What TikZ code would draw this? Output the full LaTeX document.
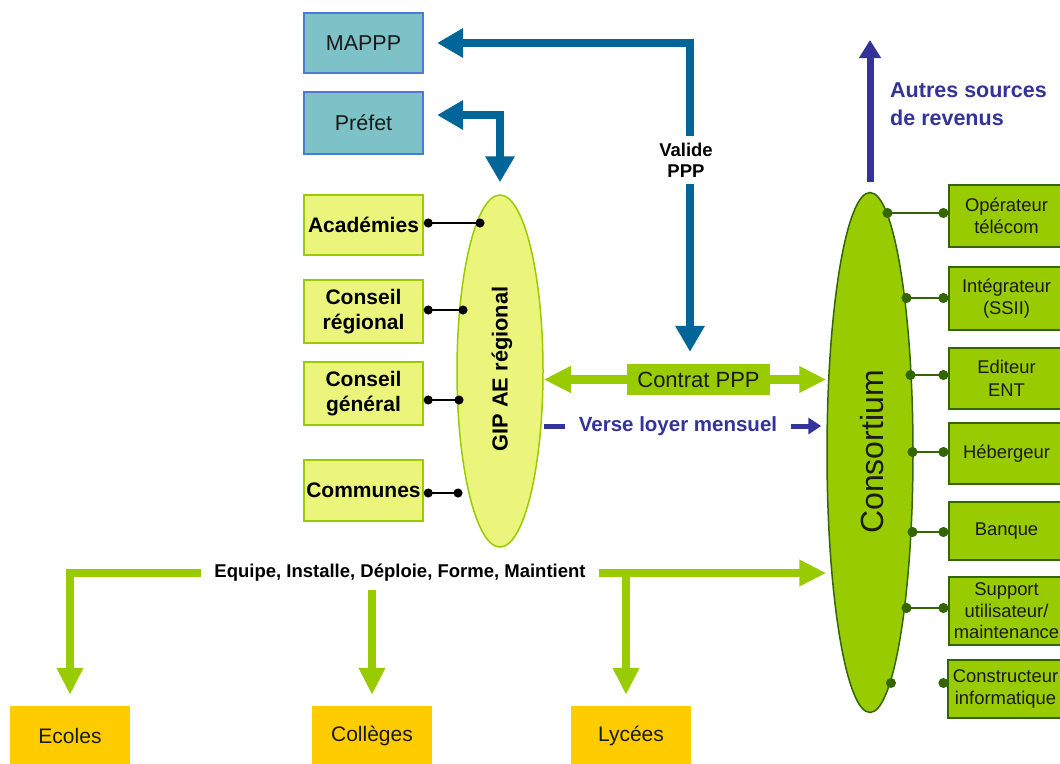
\documentclass[tikz,border=0pt]{standalone}
\usepackage{fontspec}
\setmainfont{Liberation Sans}
\usetikzlibrary{arrows.meta,shapes.geometric,calc}
\pgfdeclarelayer{background}
\pgfdeclarelayer{conn}
\pgfsetlayers{background,conn,main}
\definecolor{cTeal}{HTML}{7CC2C6}
\definecolor{cTealB}{HTML}{5079D4}
\definecolor{cLight}{HTML}{EBF57C}
\definecolor{cLime}{HTML}{99CC00}
\definecolor{cDark}{HTML}{336600}
\definecolor{cBlue}{HTML}{006699}
\definecolor{cNavy}{HTML}{333399}
\definecolor{cGold}{HTML}{FFCC00}
\definecolor{cText}{HTML}{1A1A1A}
\begin{document}
\begin{tikzpicture}[x=1pt,y=-1pt,
  tealbox/.style={draw=cTealB, line width=1.2pt, fill=cTeal, minimum width=119pt, minimum height=60pt, inner sep=0pt, text=cText, font=\fontsize{21.5}{24}\selectfont},
  limebox/.style={draw=cLime, line width=1.5pt, fill=cLight, minimum width=119pt, minimum height=61pt, inner sep=0pt, align=center, font=\bfseries\fontsize{21}{25}\selectfont},
  greenbox/.style={draw=cDark, line width=1.2pt, fill=cLime, minimum width=115pt, inner sep=0pt, align=center, text=cText, font=\fontsize{18.4}{22.5}\selectfont},
  goldbox/.style={fill=cGold, minimum width=120pt, minimum height=60pt, inner sep=0pt, text=cText, font=\fontsize{21}{24}\selectfont},
  bluepipe/.style={draw=cBlue, line width=8pt, {Triangle[length=26pt,width=28pt]}-{Triangle[length=26pt,width=28pt]}},
  limedouble/.style={draw=cLime, line width=9pt, {Triangle[length=27pt,width=25pt]}-{Triangle[length=27pt,width=25pt]}},
  limepipe/.style={draw=cLime, line width=8pt, -{Triangle[length=27pt,width=25pt]}},
  navyline/.style={draw=cNavy, line width=5pt, -{Triangle[length=13pt,width=16pt]}},
  navyup/.style={draw=cNavy, line width=7pt, -{Triangle[length=18pt,width=21pt]}},
  kconn/.style={draw=black, line width=1.5pt, {Circle[length=9pt,width=9pt]}-{Circle[length=9pt,width=9pt]}},
  gconn/.style={draw=cDark, line width=2pt, {Circle[length=10pt,width=10pt]}-{Circle[length=10pt,width=10pt]}}
]
\begin{pgfonlayer}{background}
\fill[white] (0,0) rectangle (1060,763);
\end{pgfonlayer}
\useasboundingbox (0,0) rectangle (1060,763);

% left column
\node[tealbox] (mappp) at (363.5,43) {MAPPP};
\node[tealbox, minimum height=62pt] (prefet) at (363.5,123) {Préfet};
\node[limebox, minimum height=60pt] (acad) at (363.5,225) {Académies};
\node[limebox, minimum height=63pt] (creg) at (363.5,311.5) {Conseil\\régional};
\node[limebox, minimum height=63pt] (cgen) at (363.5,393.5) {Conseil\\général};
\node[limebox] (comm) at (363.5,490.5) {Communes};

% ellipses
\node[ellipse, draw=cLime, line width=1.5pt, fill=cLight, minimum width=86pt, minimum height=352pt, inner sep=0pt] (gip) at (500,371) {};
\node[rotate=90, font=\bfseries\fontsize{21.8}{21.8}\selectfont] (giplbl) at (502,369) {GIP AE régional};
\node[ellipse, draw=cDark, line width=1.5pt, fill=cLime, minimum width=86pt, minimum height=520pt, inner sep=0pt] (cons) at (870,452.5) {};
\node[rotate=90, font=\fontsize{32}{32}\selectfont, text=cText] (conslbl) at (872,452) {Consortium};

% middle
\node[fill=cLime, minimum width=143pt, minimum height=31pt, inner sep=0pt, text=cText, font=\fontsize{22}{22}\selectfont] (contrat) at (698.5,379.5) {Contrat PPP};
\node[fill=white, text=cNavy, font=\bfseries\fontsize{20.5}{20.5}\selectfont, inner xsep=14pt, inner ysep=4pt] (verse) at (678,426) {Verse loyer mensuel};
\node[fill=white, font=\bfseries\fontsize{18.5}{21}\selectfont, align=center, inner xsep=6pt, inner ysep=7pt] (valide) at (686,160) {Valide\\PPP};
\coordinate (vx) at (690,0);

% top right
\coordinate (autrestip) at (870,40);
\node[anchor=north west, align=left, text=cNavy, font=\bfseries\fontsize{21.5}{28}\selectfont, inner sep=0pt] (autres) at (890,83) {Autres sources\\de revenus};

% right boxes
\node[greenbox, minimum height=62pt] (oper) at (1006.5,216) {Opérateur\\télécom};
\node[greenbox, minimum height=63pt] (integ) at (1006.5,298.5) {Intégrateur\\(SSII)};
\node[greenbox, minimum height=61pt] (edit) at (1006.5,378.5) {Editeur\\ENT};
\node[greenbox, minimum height=61pt] (heberg) at (1006.5,453.5) {Hébergeur};
\node[greenbox, minimum height=58pt] (banque) at (1006.5,531) {Banque};
\node[greenbox, minimum height=68pt, font=\fontsize{18.4}{21.5}\selectfont] (support) at (1006.5,611) {Support\\utilisateur/\\maintenance};
\node[greenbox, minimum height=58pt] (constr) at (1005.5,689) {Constructeur\\informatique};

% bottom
\node[fill=white, font=\bfseries\fontsize{18.5}{18.5}\selectfont, inner xsep=13pt, inner ysep=8pt] (equipe) at (400,573) {Equipe, Installe, Déploie, Forme, Maintient};
\node[goldbox] (ecoles) at (70,736) {Ecoles};
\node[goldbox] (colleges) at (372,736) {Collèges};
\node[goldbox] (lycees) at (631,736) {Lycées};
\coordinate (lyx) at (626,0);

% connectors behind labels
\begin{pgfonlayer}{conn}
\draw[bluepipe, shorten <=12pt, shorten >=13.5pt] (contrat.north -| vx) |- (mappp.east);
\draw[bluepipe, shorten <=13.5pt, shorten >=12pt] ([yshift=8pt]prefet.east) -| (gip.north);
\draw[limedouble] (contrat.west -| gip.east) -- (contrat.east -| cons.west);
\draw[navyline, shorten >=5pt] (verse -| gip.east) -- (verse -| cons.west);
\draw[navyup, shorten <=10pt] (cons.north) -- (autrestip);
\draw[limepipe, shorten >=11pt] (equipe.west) -| (ecoles.north);
\draw[limepipe, shorten >=11pt] (equipe.south -| colleges.north) -- (colleges.north);
\draw[limepipe] (equipe.east) -- (equipe.east -| cons.west);
\draw[limepipe, shorten >=11pt] (equipe.east -| lyx) -- (lycees.north -| lyx);
\end{pgfonlayer}

% left dot connectors
\coordinate (g1) at (484.5,223);
\coordinate (g2) at (467.5,310);
\coordinate (g3) at (463.5,400);
\coordinate (g4) at (462.5,493);
\draw[kconn] (g1 -| acad.east) -- (g1);
\draw[kconn] (g2 -| creg.east) -- (g2);
\draw[kconn] (g3 -| cgen.east) -- (g3);
\draw[kconn] (g4 -| comm.east) -- (g4);

% right dot connectors
\coordinate (c1) at (882.5,213);
\coordinate (c2) at (901.5,298);
\coordinate (c3) at (905.5,375);
\coordinate (c4) at (907.5,452);
\coordinate (c5) at (907.5,532);
\coordinate (c6) at (901.5,608);
\coordinate (c7) at (891,683);
\draw[gconn] (c1) -- (c1 -| oper.west);
\draw[gconn] (c2) -- (c2 -| integ.west);
\draw[gconn] (c3) -- (c3 -| edit.west);
\draw[gconn] (c4) -- (c4 -| heberg.west);
\draw[gconn] (c5) -- (c5 -| banque.west);
\draw[gconn] (c6) -- (c6 -| support.west);
\fill[cDark] (c7) circle[radius=5pt];
\fill[cDark] ($(c7 -| constr.west)+(-4,0)$) circle[radius=5pt];
\end{tikzpicture}
\end{document}
